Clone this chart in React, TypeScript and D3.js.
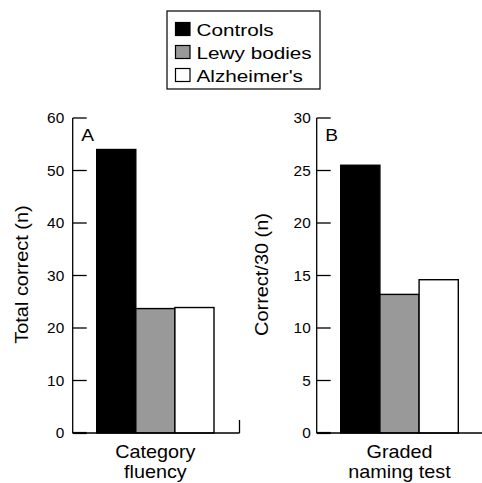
import React from "react";
import * as d3 from "d3";

const groups = ["Controls", "Lewy bodies", "Alzheimer's"];
const fills = ["#000000", "#999999", "#ffffff"];

const fluencyValues = [54, 23.7, 23.9];
const namingValues = [25.5, 13.2, 14.6];

const fluencyTicks = [0, 10, 20, 30, 40, 50, 60];
const namingTicks = [0, 5, 10, 15, 20, 25, 30];

const FONT = "'Liberation Sans', Arial, Helvetica, sans-serif";

type TextProps = {
  x: number;
  y: number;
  size: number;
  sx?: number;
  anchor?: "start" | "middle" | "end";
  rotate?: number;
  children: React.ReactNode;
};

// Text drawn with a slight horizontal stretch (wide Helvetica look)
function T({ x, y, size, sx = 1.15, anchor = "start", rotate = 0, children }: TextProps) {
  return (
    <text
      transform={`translate(${x},${y}) rotate(${rotate}) scale(${sx},1)`}
      fontFamily={FONT}
      fontSize={size}
      textAnchor={anchor}
      fill="#000"
    >
      {children}
    </text>
  );
}

type PanelProps = {
  axisX: number;
  barLeft: number;
  barRight: number;
  xEnd: number;
  endTick: boolean;
  values: number[];
  ticks: number[];
  max: number;
  letter: string;
  yLabel: string;
  yLabelX: number;
  tickGap: number;
  catLines: string[];
};

const TOP = 118;
const BOTTOM = 433;

function Panel(p: PanelProps) {
  const y = d3.scaleLinear().domain([0, p.max]).range([BOTTOM, TOP]);
  const x = d3.scaleBand<string>().domain(groups).range([p.barLeft, p.barRight]).paddingInner(0);
  const cx = (p.barLeft + p.barRight) / 2;
  return (
    <g>
      {groups.map((g, i) => (
        <rect
          key={g}
          x={x(g)!}
          y={y(p.values[i])}
          width={x.bandwidth()}
          height={BOTTOM - y(p.values[i])}
          fill={fills[i]}
          stroke="#000"
          strokeWidth={1.4}
        />
      ))}
      <line x1={p.axisX} x2={p.axisX} y1={TOP} y2={BOTTOM} stroke="#000" strokeWidth={1.3} />
      <line x1={p.axisX} x2={p.xEnd} y1={BOTTOM} y2={BOTTOM} stroke="#000" strokeWidth={1.3} />
      {p.endTick && (
        <line x1={p.xEnd} x2={p.xEnd} y1={BOTTOM - 13} y2={BOTTOM} stroke="#000" strokeWidth={1.3} />
      )}
      {p.ticks.map((t) => (
        <g key={t}>
          <line x1={p.axisX} x2={p.axisX + 14} y1={y(t)} y2={y(t)} stroke="#000" strokeWidth={t === 0 ? 2.2 : 1.3} />
          <T x={p.axisX - p.tickGap} y={y(t) + 5} size={14} sx={1.1} anchor="end">
            {t}
          </T>
        </g>
      ))}
      <T x={p.axisX + 8.5} y={140.5} size={16} sx={1.2}>
        {p.letter}
      </T>
      <T x={p.yLabelX} y={(TOP + BOTTOM) / 2 - 1} size={17.5} sx={1.14} anchor="middle" rotate={-90}>
        {p.yLabel}
      </T>
      {p.catLines.map((l, i) => (
        <T key={l} x={cx} y={458 + i * 20} size={18} sx={1.1} anchor="middle">
          {l}
        </T>
      ))}
    </g>
  );
}

export default function App() {
  return (
    <svg width={482} height={483} style={{ display: "block", position: "absolute", left: 0, top: 0 }}>
      <rect x={0} y={0} width={482} height={483} fill="#fff" />
      {/* legend */}
      <rect x={167} y={11} width={153} height={78} fill="#fff" stroke="#000" strokeWidth={1.2} />
      {groups.map((g, i) => (
        <g key={g}>
          <rect x={175.5} y={22.5 + i * 23} width={14.5} height={13} fill={fills[i]} stroke="#000" strokeWidth={1.2} />
          <T x={196.5} y={35.5 + i * 23} size={17} sx={1.22}>
            {g}
          </T>
        </g>
      ))}
      <Panel
        axisX={72.7}
        barLeft={96.7}
        barRight={214}
        xEnd={239.5}
        endTick={true}
        values={fluencyValues}
        ticks={fluencyTicks}
        max={60}
        letter="A"
        yLabel="Total correct (n)"
        yLabelX={28}
        tickGap={8.5}
        catLines={["Category", "fluency"]}
      />
      <Panel
        axisX={316.7}
        barLeft={340.7}
        barRight={458.3}
        xEnd={484}
        endTick={false}
        values={namingValues}
        ticks={namingTicks}
        max={30}
        letter="B"
        yLabel="Correct/30 (n)"
        yLabelX={268}
        tickGap={6}
        catLines={["Graded", "naming test"]}
      />
    </svg>
  );
}
